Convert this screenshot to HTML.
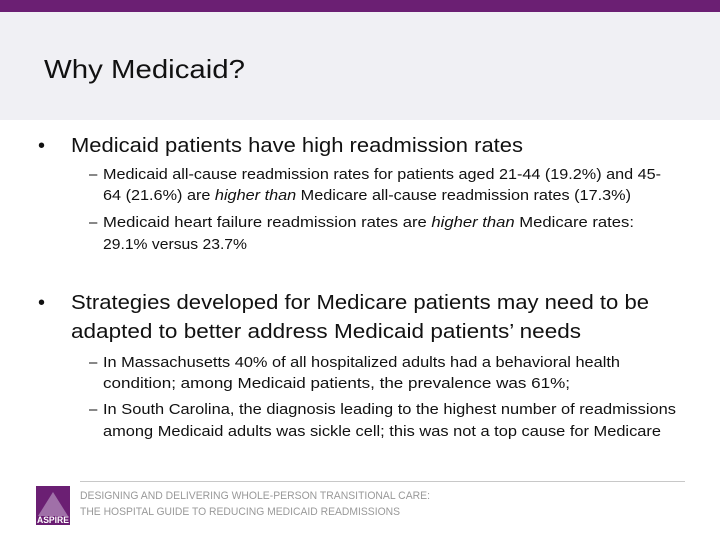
<!DOCTYPE html>
<html><head><meta charset="utf-8"><style>
html,body{margin:0;padding:0;width:720px;height:540px;overflow:hidden;background:#fff}
svg{display:block;font-family:"Liberation Sans",sans-serif}
</style></head><body>
<svg width="720" height="540" viewBox="0 0 720 540">
<rect x="0" y="0" width="720" height="12" fill="#6b1f73"/>
<rect x="0" y="12" width="720" height="108" fill="#f0f0f4"/>
<text x="44" y="78" font-size="26" fill="#111" textLength="201" lengthAdjust="spacingAndGlyphs">Why Medicaid?</text>

<g fill="#111">
<text x="38" y="152" font-size="20">•</text>
<text x="71" y="152" font-size="20" textLength="452" lengthAdjust="spacingAndGlyphs">Medicaid patients have high readmission rates</text>
<text x="89" y="179" font-size="15">–</text>
<text x="103" y="179" font-size="15" textLength="558" lengthAdjust="spacingAndGlyphs">Medicaid all-cause readmission rates for patients aged 21-44 (19.2%) and 45-</text>
<text x="103" y="200" font-size="15" textLength="528" lengthAdjust="spacingAndGlyphs">64 (21.6%) are <tspan font-style="italic">higher than</tspan> Medicare all-cause readmission rates (17.3%)</text>
<text x="89" y="227" font-size="15">–</text>
<text x="103" y="227" font-size="15" textLength="531" lengthAdjust="spacingAndGlyphs">Medicaid heart failure readmission rates are <tspan font-style="italic">higher than</tspan> Medicare rates:</text>
<text x="103" y="249" font-size="15" textLength="144" lengthAdjust="spacingAndGlyphs">29.1% versus 23.7%</text>

<text x="38" y="309" font-size="20">•</text>
<text x="71" y="309" font-size="20" textLength="578" lengthAdjust="spacingAndGlyphs">Strategies developed for Medicare patients may need to be</text>
<text x="71" y="338" font-size="20" textLength="510" lengthAdjust="spacingAndGlyphs">adapted to better address Medicaid patients’ needs</text>
<text x="89" y="367" font-size="15">–</text>
<text x="103" y="367" font-size="15" textLength="517" lengthAdjust="spacingAndGlyphs">In Massachusetts 40% of all hospitalized adults had a behavioral health</text>
<text x="103" y="388" font-size="15" textLength="467" lengthAdjust="spacingAndGlyphs">condition; among Medicaid patients, the prevalence was 61%;</text>
<text x="89" y="414" font-size="15">–</text>
<text x="103" y="414" font-size="15" textLength="573" lengthAdjust="spacingAndGlyphs">In South Carolina, the diagnosis leading to the highest number of readmissions</text>
<text x="103" y="436" font-size="15" textLength="558" lengthAdjust="spacingAndGlyphs">among Medicaid adults was sickle cell; this was not a top cause for Medicare</text>
</g>

<g>
<rect x="36" y="486" width="34" height="39" fill="#6b1f73"/>
<polygon points="53,492 68,516 38,516" fill="#a070a8"/>
<text x="37" y="523" font-size="9" font-weight="bold" fill="#fff" textLength="32" lengthAdjust="spacingAndGlyphs">ASPIRE</text>
<line x1="80" y1="481.5" x2="685" y2="481.5" stroke="#c8c8c8" stroke-width="1"/>
<text x="80" y="499" font-size="11" fill="#999" textLength="350" lengthAdjust="spacingAndGlyphs">DESIGNING AND DELIVERING WHOLE-PERSON TRANSITIONAL CARE:</text>
<text x="80" y="515" font-size="11" fill="#999" textLength="320" lengthAdjust="spacingAndGlyphs">THE HOSPITAL GUIDE TO REDUCING MEDICAID READMISSIONS</text>
</g>
</svg>
</body></html>
